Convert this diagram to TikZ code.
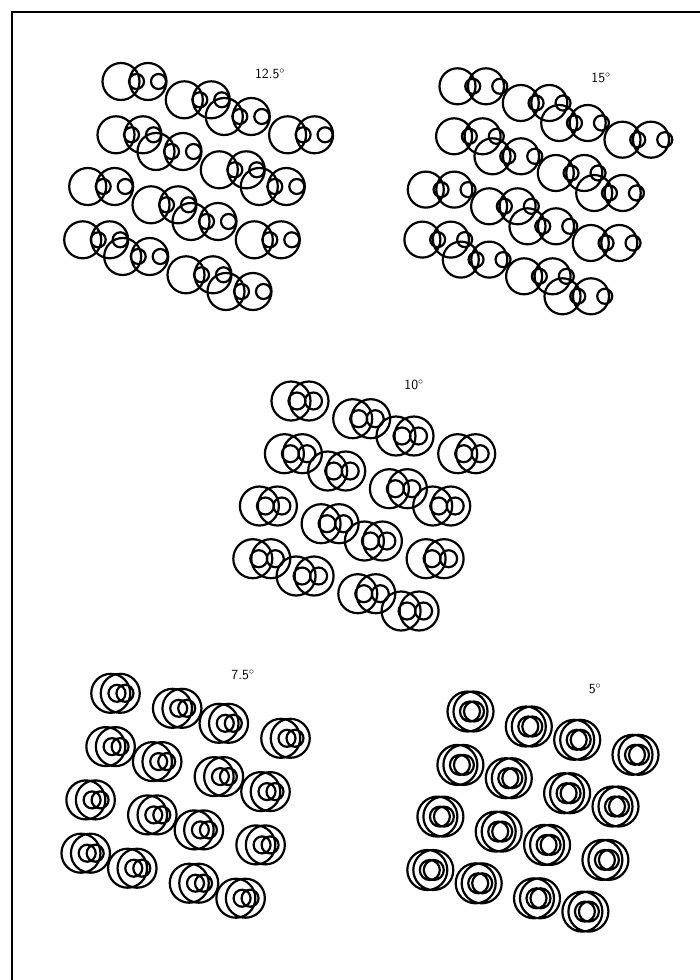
\documentclass[tikz,border=0pt]{standalone}
\usepackage{amsmath,amssymb}
\usepackage{tikz}

\begin{document}
\begin{tikzpicture}[
		x=1pt,
		y=-1pt,
		ring/.style={line width=2.2pt},
		frame line/.style={line width=2pt},
		angle label/.style={font=\sffamily\fontsize{14}{14}\selectfont, inner sep=0pt}
		]
		\useasboundingbox (0,0) rectangle (700,980);
		\draw[frame line] (12,980) -- (12,12) -- (700,12);

		% one panel per angle: origin, two lattice vectors, basis, big/small radius, shift, small circle places
		\foreach \ox/\oy/\ax/\ay/\bx/\by/\cx/\cy/\R/\r/\s/\p/\q in {
				134.5/81.5/103.3/35/35/70/63.3/18.3/18.5/7.5/27/2/24,
				471.75/86.3/101.7/36.7/35/70/63.3/16.7/18/7.5/28.5/1/28,
				300/401/105/35/36.7/70/61.7/17.7/19.5/8.5/18/-3/13.5,
				115.5/693.3/108.3/30/41.7/68.3/61.7/15/19.5/8.5/9.5/1.5/9.5,
				470.5/711.5/106.7/28.3/38.3/66.7/58.3/15/20/10/6/-0.5/3.5}
		{
			\foreach \m/\n/\b in {0/0/0,0/0/1,1/0/0,1/0/1,
					-1/1/1,0/1/0,0/1/1,1/1/0,
					-1/2/0,-1/2/1,0/2/0,0/2/1,
					-2/3/1,-1/3/0,-1/3/1,0/3/0}
			{
				\begin{scope}[shift={({\ox+\m*\ax+\n*\bx+\b*\cx},{\oy+\m*\ay+\n*\by+\b*\cy})}]
					\draw[ring] (-\s/2,0) circle[radius=\R pt]
						(\s/2,0) circle[radius=\R pt]
						(\p,0) circle[radius=\r pt]
						(\q,0) circle[radius=\r pt];
				\end{scope}
			}
		}

		\node[angle label] (deg125) at (270,74) {12.5$^\circ$};
		\node[angle label] (deg15) at (601,78) {15$^\circ$};
		\node[angle label] (deg10) at (414,385) {10$^\circ$};
		\node[angle label] (deg75) at (243,675) {7.5$^\circ$};
		\node[angle label] (deg5) at (595,689) {5$^\circ$};
	\end{tikzpicture}
\end{document}
